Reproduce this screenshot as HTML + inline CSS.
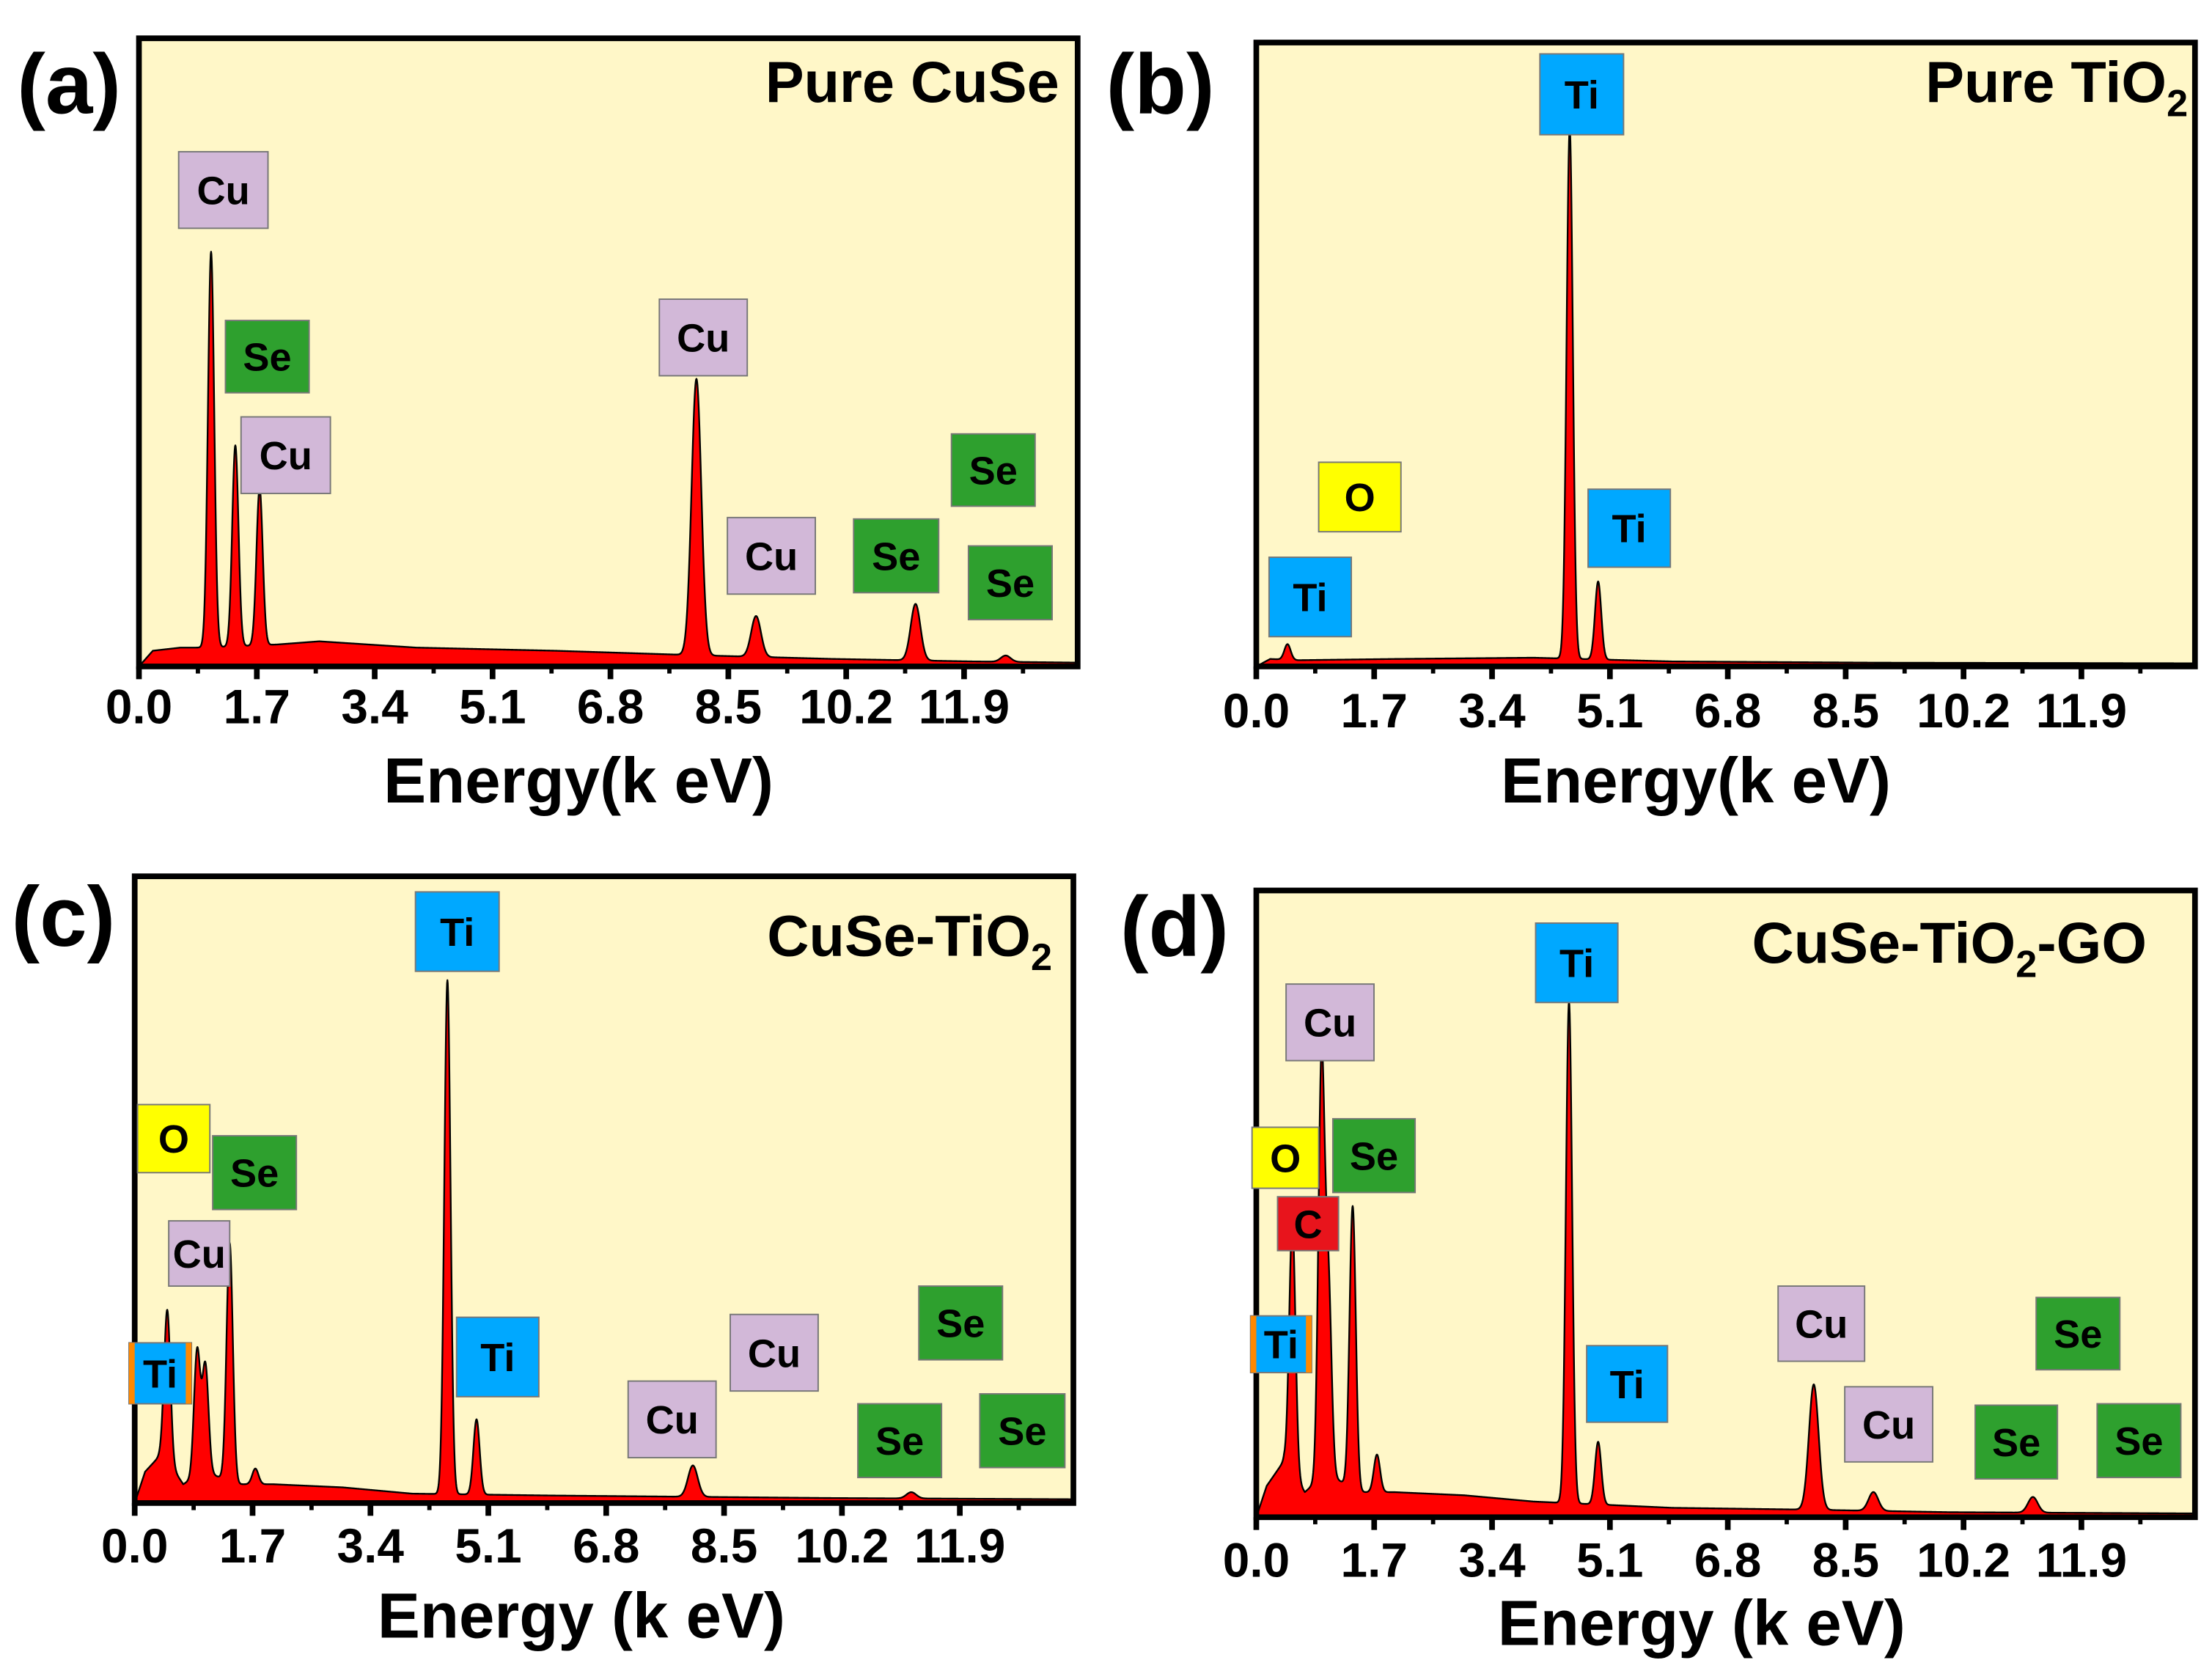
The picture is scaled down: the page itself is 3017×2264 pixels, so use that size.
<!DOCTYPE html>
<html><head><meta charset="utf-8"><style>
html,body{margin:0;padding:0;background:#fff}
svg{display:block}
text{font-family:"Liberation Sans",Arial,sans-serif;font-weight:bold}
</style></head><body>
<svg id="fig" width="3017" height="2264" viewBox="0 0 1560 1170.7" preserveAspectRatio="none" xmlns="http://www.w3.org/2000/svg"></svg>
<script>
// ---- data (energies in keV, heights as fraction of plot height) ----
const tickLabels = ["0.0","1.7","3.4","5.1","6.8","8.5","10.2","11.9"];
const tickValues = [0,1.7,3.4,5.1,6.8,8.5,10.2,11.9];

const aPeakE = [1.04,1.39,1.74,8.04,8.9,11.2,12.5];
const aPeakH = [0.63,0.32,0.25,0.44,0.065,0.09,0.01];
const aBgE = [0,0.2,0.6,1.0,2.0,2.6,4,6,8,10,12,13.6];
const aBgH = [0.0,0.025,0.03,0.03,0.035,0.04,0.03,0.025,0.018,0.012,0.008,0.006];

const bPeakE = [0.45,4.52,4.93];
const bPeakH = [0.025,0.85,0.125];
const bBgE = [0,0.2,0.6,2,4,6,9,13.6];
const bBgH = [0,0.012,0.01,0.012,0.014,0.008,0.006,0.005];

const cPeakE = [0.47,0.9,1.02,1.37,1.74,4.51,4.93,8.05,11.2];
const cPeakH = [0.24,0.2,0.17,0.38,0.025,0.82,0.12,0.05,0.01];
const cBgE = [0,0.15,0.4,0.7,1.0,1.5,2.0,3,4,6,8,10,13.6];
const cBgH = [0,0.05,0.08,0.03,0.05,0.03,0.03,0.025,0.015,0.012,0.01,0.008,0.006];

const dPeakE = [0.52,0.94,1.04,1.39,1.74,4.51,4.93,8.04,8.9,11.2];
const dPeakH = [0.40,0.66,0.3,0.45,0.06,0.8,0.1,0.2,0.03,0.025];
const dBgE = [0,0.15,0.4,0.7,1.0,1.5,2.0,3,4,6,8,10,13.6];
const dBgH = [0,0.05,0.09,0.04,0.07,0.04,0.04,0.035,0.025,0.015,0.012,0.008,0.006];

const NS="http://www.w3.org/2000/svg";
const svg=document.getElementById('fig');
function el(tag,attrs,parent){const e=document.createElementNS(NS,tag);for(const k in attrs)e.setAttribute(k,attrs[k]);(parent||svg).appendChild(e);return e;}

function panel(cfg){
  const g=el('g',{});
  
  
  const x0=cfg.x0,x1=cfg.x1,y0=cfg.y0,y1=cfg.y1;
  const kpx=48.9;
  const xs=e=>x0+e*kpx;
  const ys=h=>y1-h*(y1-y0);
  const maxE=(x1-x0)/kpx;
  const bg=el('rect',{x:x0,y:y0,width:x1-x0,height:y1-y0,fill:'#fff7c8'},g);
  
  
  function bgAt(e){const E=cfg.bgE,H=cfg.bgH;for(let i=0;i<E.length-1;i++){if(e>=E[i]&&e<=E[i+1]){return H[i]+(H[i+1]-H[i])*(e-E[i])/(E[i+1]-E[i]);}}return H[H.length-1];}
  let pts=[];
  for(let e=0;e<=maxE;e+=0.005){
    let h=bgAt(e);
    for(let i=0;i<cfg.pE.length;i++){const s=cfg.pE[i]>6?0.07:0.045;h+=cfg.pH[i]*Math.exp(-Math.pow(e-cfg.pE[i],2)/(2*s*s));}
    pts.push(xs(e).toFixed(2)+','+ys(h).toFixed(2));
  }
  const poly=el('polygon',{points:xs(0)+','+y1+' '+pts.join(' ')+' '+xs(maxE)+','+y1,fill:'#ff0000',stroke:'#000','stroke-width':1.2,'stroke-linejoin':'round'},g);
  
  
  const fr=el('rect',{x:x0,y:y0,width:x1-x0,height:y1-y0,fill:'none',stroke:'#000','stroke-width':4},g);
  
  
  for(let i=0;i<tickValues.length;i++){
    const x=xs(tickValues[i]);
    el('line',{x1:x,x2:x,y1:y1,y2:y1+9,stroke:'#000','stroke-width':4},g);
    const mx=xs(tickValues[i]+0.85);
    if(mx<x1) el('line',{x1:mx,x2:mx,y1:y1,y2:y1+5,stroke:'#000','stroke-width':3},g);
    const t=el('text',{x:x,y:cfg.ty,'font-size':34,'text-anchor':'middle',fill:'#000'},g);
    t.textContent=tickLabels[i];
    
    
  }
  const xt=el('text',{x:cfg.tx,y:cfg.tty,'font-size':45,'text-anchor':'middle',fill:'#000'},g);
  xt.textContent=cfg.xtitle;
  
  
  const pl=el('text',{x:cfg.lx,y:cfg.ly,'font-size':60,fill:'#000'},g);
  pl.textContent='('+cfg.id+')';
  
  
  const ti=el('text',{x:cfg.nx,y:cfg.ny,'font-size':41,'text-anchor':'end',fill:'#000'},g);
  ti.innerHTML=cfg.name;
  
  
  const colors={Cu:'#d2b8d8',Se:'#2ea02e',Ti:'#00a8ff',O:'#ffff00',C:'#e8141c'};
  cfg.labels.forEach(l=>{
    const [t,a,b,c,d,orange]=l;
    const lg=el('g',{},g);
    
    
    el('rect',{x:a,y:b,width:c-a,height:d-b,fill:colors[t],stroke:'#777','stroke-width':1},lg);
    if(orange){el('rect',{x:a,y:b,width:4,height:d-b,fill:'#ff8800'},lg);el('rect',{x:c-4,y:b,width:4,height:d-b,fill:'#ff8800'},lg);}
    const tx=el('text',{x:(a+c)/2,y:(b+d)/2+10,'font-size':28,'text-anchor':'middle',fill:'#000'},lg);
    tx.textContent=t;
  });
}

panel({id:'a',x0:98,x1:760,y0:27,y1:470,ty:510,tx:408,tty:566,xtitle:'Energy(k eV)',lx:12,ly:80,nx:747,ny:72,
  name:'Pure CuSe',pE:aPeakE,pH:aPeakH,bgE:aBgE,bgH:aBgH,
  labels:[['Cu',126,107,189,161],['Se',159,226,218,277],['Cu',170,294,233,348],['Cu',465,211,527,265],['Cu',513,365,575,419],['Se',602,366,662,418],['Se',671,306,730,357],['Se',683,385,742,437]]});
panel({id:'b',x0:886,x1:1548,y0:30,y1:470,ty:513,tx:1196,tty:566,xtitle:'Energy(k eV)',lx:780,ly:80,nx:1543,ny:72,
  name:'Pure TiO<tspan font-size="27" dy="10">2</tspan>',pE:bPeakE,pH:bPeakH,bgE:bBgE,bgH:bBgH,
  labels:[['Ti',1086,38,1145,95],['O',930,326,988,375],['Ti',1120,345,1178,400],['Ti',895,393,953,449]]});
panel({id:'c',x0:95,x1:757,y0:618,y1:1060,ty:1102,tx:410,tty:1155,xtitle:'Energy (k eV)',lx:8,ly:667,nx:742,ny:674,
  name:'CuSe-TiO<tspan font-size="27" dy="10">2</tspan>',pE:cPeakE,pH:cPeakH,bgE:cBgE,bgH:cBgH,
  labels:[['Ti',293,629,352,685],['O',97,779,148,827],['Se',150,801,209,853],['Cu',119,861,162,907],['Ti',91,947,135,990,1],['Ti',322,929,380,985],['Cu',443,974,505,1028],['Cu',515,927,577,981],['Se',648,907,707,959],['Se',605,990,664,1042],['Se',691,983,751,1035]]});
panel({id:'d',x0:886,x1:1548,y0:628,y1:1070,ty:1112,tx:1200,tty:1160,xtitle:'Energy (k eV)',lx:790,ly:674,nx:1514,ny:679,
  name:'CuSe-TiO<tspan font-size="27" dy="10">2</tspan><tspan dy="-10">-GO</tspan>',pE:dPeakE,pH:dPeakH,bgE:dBgE,bgH:dBgH,
  labels:[['Ti',1083,651,1141,707],['Cu',907,694,969,748],['O',883,795,930,838],['Se',940,789,998,841],['C',901,844,944,882],['Ti',882,928,925,968,1],['Ti',1119,949,1176,1003],['Cu',1254,907,1315,960],['Cu',1301,978,1363,1031],['Se',1436,915,1495,966],['Se',1393,991,1451,1043],['Se',1479,990,1538,1042]]});
</script>
</body></html>
